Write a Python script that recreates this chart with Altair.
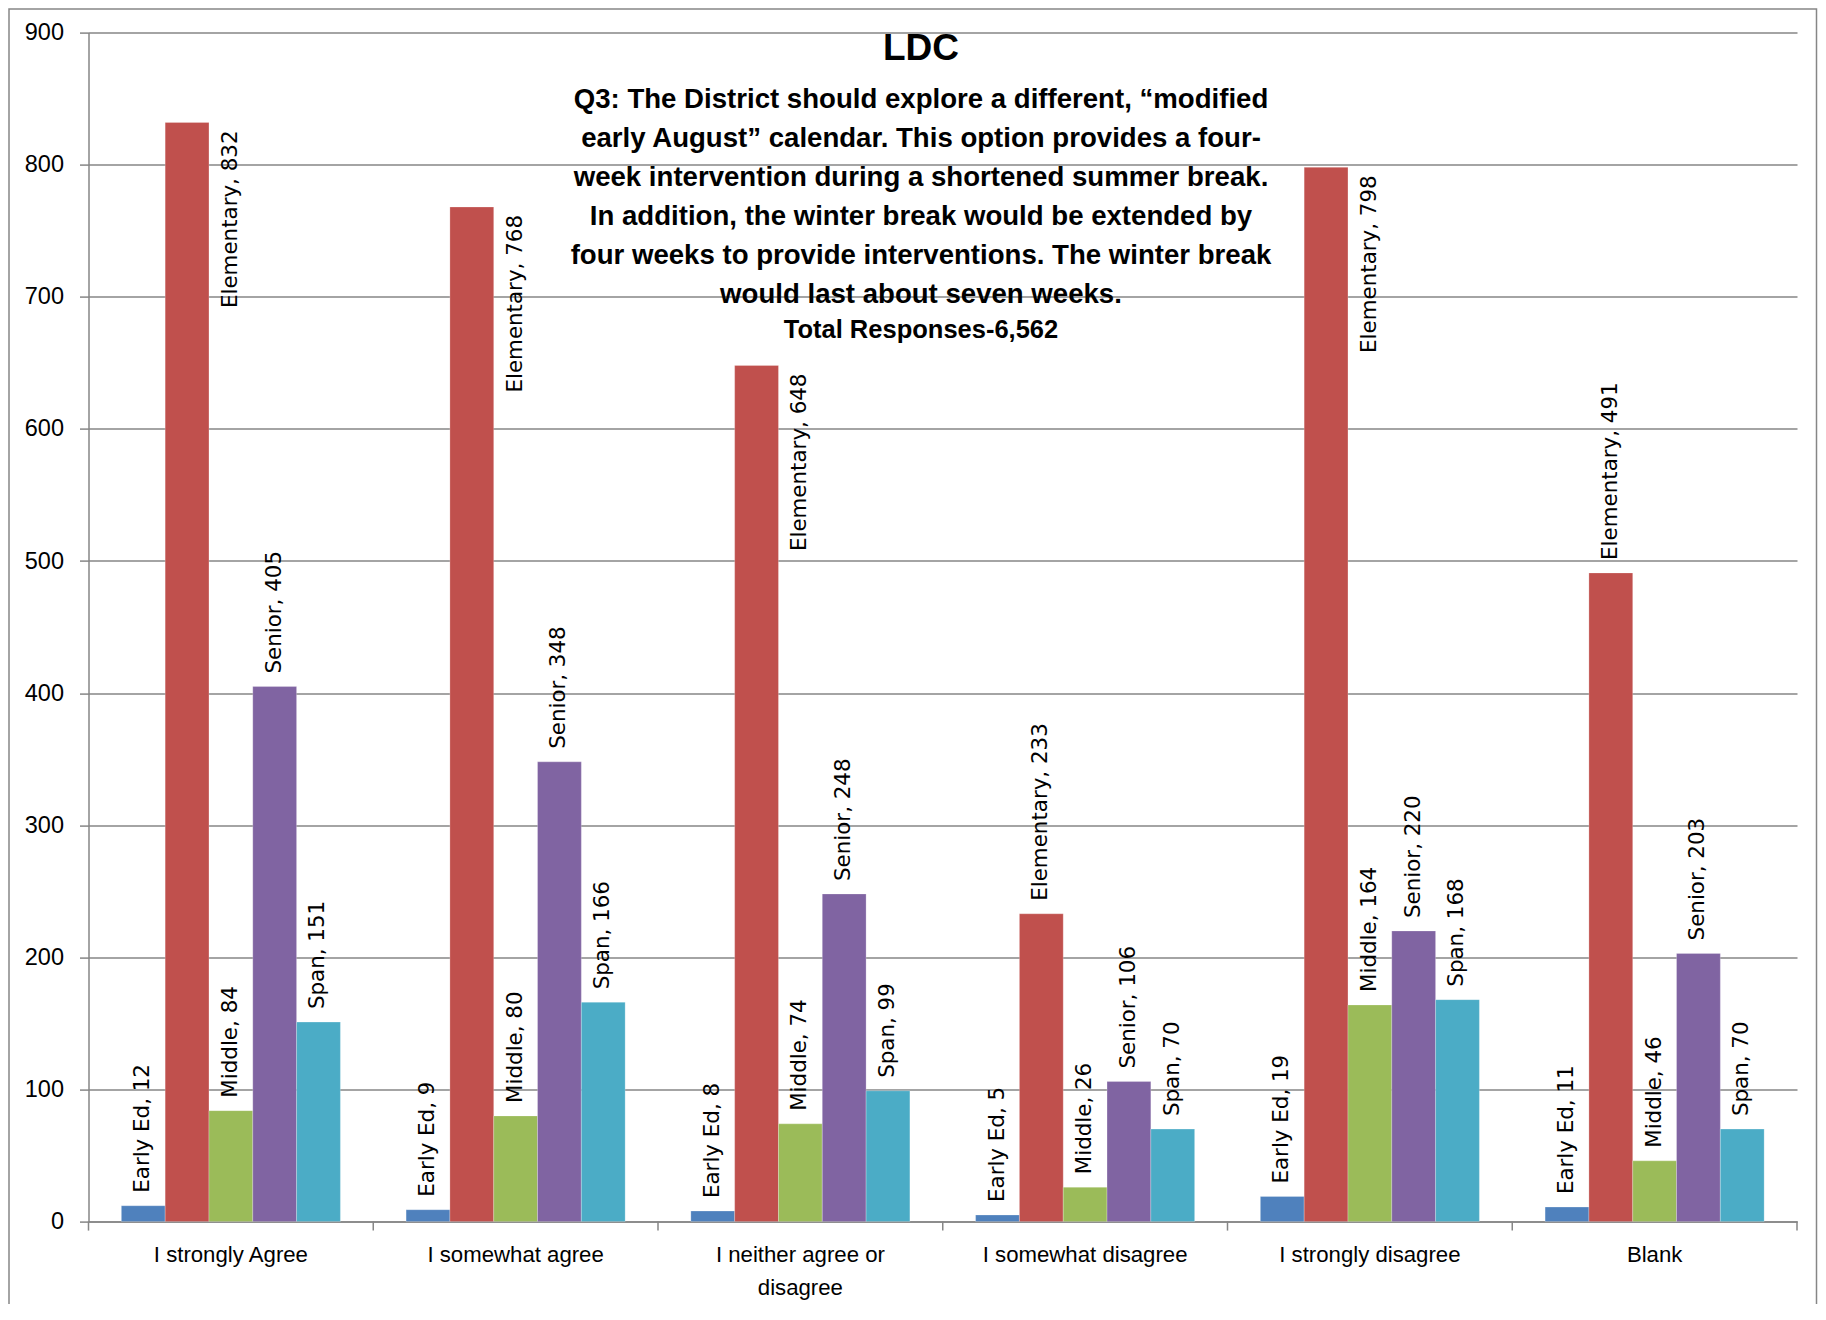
import altair as alt
import pandas as pd

# ---------------- data ----------------
categories = ["I strongly Agree", "I somewhat agree", "I neither agree or disagree",
              "I somewhat disagree", "I strongly disagree", "Blank"]
series = ["Early Ed", "Elementary", "Middle", "Senior", "Span"]
early_ed = [12, 9, 8, 5, 19, 11]
elementary = [832, 768, 648, 233, 798, 491]
middle = [84, 80, 74, 26, 164, 46]
senior = [405, 348, 248, 106, 220, 203]
span = [151, 166, 99, 70, 168, 70]
colors = ["#4F81BD", "#C0504D", "#9BBB59", "#8064A2", "#4BACC6"]
y_ticks = [0, 100, 200, 300, 400, 500, 600, 700, 800, 900]

title_main = "LDC"
title_lines = [
    "Q3: The District should explore a different, \u201cmodified",
    "early August\u201d calendar. This option provides a four-",
    "week intervention during a shortened summer break.",
    "In addition, the winter break would be extended by",
    "four weeks to provide interventions. The winter break",
    "would last about seven weeks.",
]
title_total = "Total Responses-6,562"

rows = []
for s, vals in zip(series, [early_ed, elementary, middle, senior, span]):
    for c, v in zip(categories, vals):
        rows.append({"category": c, "series": s, "value": v, "label": f"{s}, {v}"})
df = pd.DataFrame(rows)

W, H = 1708.5, 1189
GRAY = "#868686"
BAR_W = W / 6 / 6.5

x_enc = alt.X(
    "category:N", sort=categories,
    scale=alt.Scale(paddingInner=0, paddingOuter=0),
    axis=alt.Axis(
        title=None, labelAngle=0, domainColor=GRAY, domainWidth=1.5,
        tickSize=9, tickOpacity=0, labelPadding=13, labelLimit=0,
        labelFont="Liberation Sans", labelFontSize=22.2, labelColor="black",
        labelBaseline="top", labelLineHeight=32.6,
        labelExpr="datum.label == 'I neither agree or disagree' ? ['I neither agree or', 'disagree'] : datum.label",
    ),
)
xoff_enc = alt.XOffset("series:N", sort=series,
                       scale=alt.Scale(paddingInner=0, paddingOuter=0.75))
y_enc = alt.Y(
    "value:Q", scale=alt.Scale(domain=[0, 900], nice=False),
    axis=alt.Axis(
        title=None, values=y_ticks, grid=True, gridColor=GRAY, gridWidth=1.5,
        domainColor=GRAY, domainWidth=1.5, tickColor=GRAY, tickWidth=1.5,
        tickSize=9, labelPadding=16, labelFont="Liberation Sans",
        labelFontSize=23.5, labelColor="black",
    ),
)
color_enc = alt.Color("series:N", sort=series,
                      scale=alt.Scale(domain=series, range=colors), legend=None)

base = alt.Chart(df)

bars = base.mark_bar(stroke="white", strokeWidth=0.4, strokeOpacity=0.6).encode(
    x=x_enc, xOffset=xoff_enc, y=y_enc, color=color_enc
)

flip = "datum.series == 'Elementary' && datum.value > 600"

labels_out = base.transform_filter("!(" + flip + ")").mark_text(
    angle=270, align="left", baseline="middle", dx=13,
    font="DejaVu Sans", fontSize=21.4, color="black",
).encode(x=alt.X("category:N", sort=categories), xOffset=xoff_enc,
         y=alt.Y("value:Q"), text="label:N")

labels_in = base.transform_filter(flip).mark_text(
    angle=270, align="right", baseline="middle", dx=-8, dy=BAR_W,
    font="DejaVu Sans", fontSize=21.4, color="black",
).encode(x=alt.X("category:N", sort=categories), xOffset=xoff_enc,
         y=alt.Y("value:Q"), text="label:N")

# category separator ticks on the x axis
tick_df = pd.DataFrame({"category": categories})
cat_ticks = alt.Chart(tick_df).mark_rule(color=GRAY, strokeWidth=1.5).encode(
    x=alt.X("category:N", sort=categories, bandPosition=0),
    y=alt.value(H), y2=alt.value(H + 9),
)
end_tick = alt.Chart(pd.DataFrame({"k": [0]})).mark_rule(color=GRAY, strokeWidth=1.5).encode(
    x=alt.value(W), y=alt.value(H), y2=alt.value(H + 9)
)

one = pd.DataFrame({"k": [0]})
t_main = alt.Chart(one).mark_text(
    text=title_main, font="Liberation Sans", fontWeight="bold", fontSize=37,
    align="center", baseline="middle", color="black",
).encode(x=alt.value(832.5), y=alt.value(16.4))
t_sub = alt.Chart(one).mark_text(
    text=title_lines, font="Liberation Sans", fontWeight="bold", fontSize=27.6,
    align="center", baseline="top", lineHeight=38.9, color="black",
).encode(x=alt.value(832.5), y=alt.value(53.4))
t_total = alt.Chart(one).mark_text(
    text=title_total, font="Liberation Sans", fontWeight="bold", fontSize=25.5,
    align="center", baseline="middle", color="black",
).encode(x=alt.value(832.5), y=alt.value(297))

frame = alt.Chart(one).mark_rect(filled=False, stroke=GRAY, strokeWidth=1.5).encode(
    x=alt.value(-79.5), x2=alt.value(1728), y=alt.value(-23.6), y2=alt.value(1300)
)

chart = alt.layer(
    frame, bars, labels_out, labels_in, cat_ticks, end_tick, t_main, t_sub, t_total
).properties(
    width=W, height=H,
    autosize=alt.AutoSizeParams(type="none"),
    padding={"left": 80.5, "top": 24.6, "right": 21, "bottom": 82.4},
).configure_view(stroke=None)

chart.save("out.html", embed_options={"renderer": "svg", "actions": False})
